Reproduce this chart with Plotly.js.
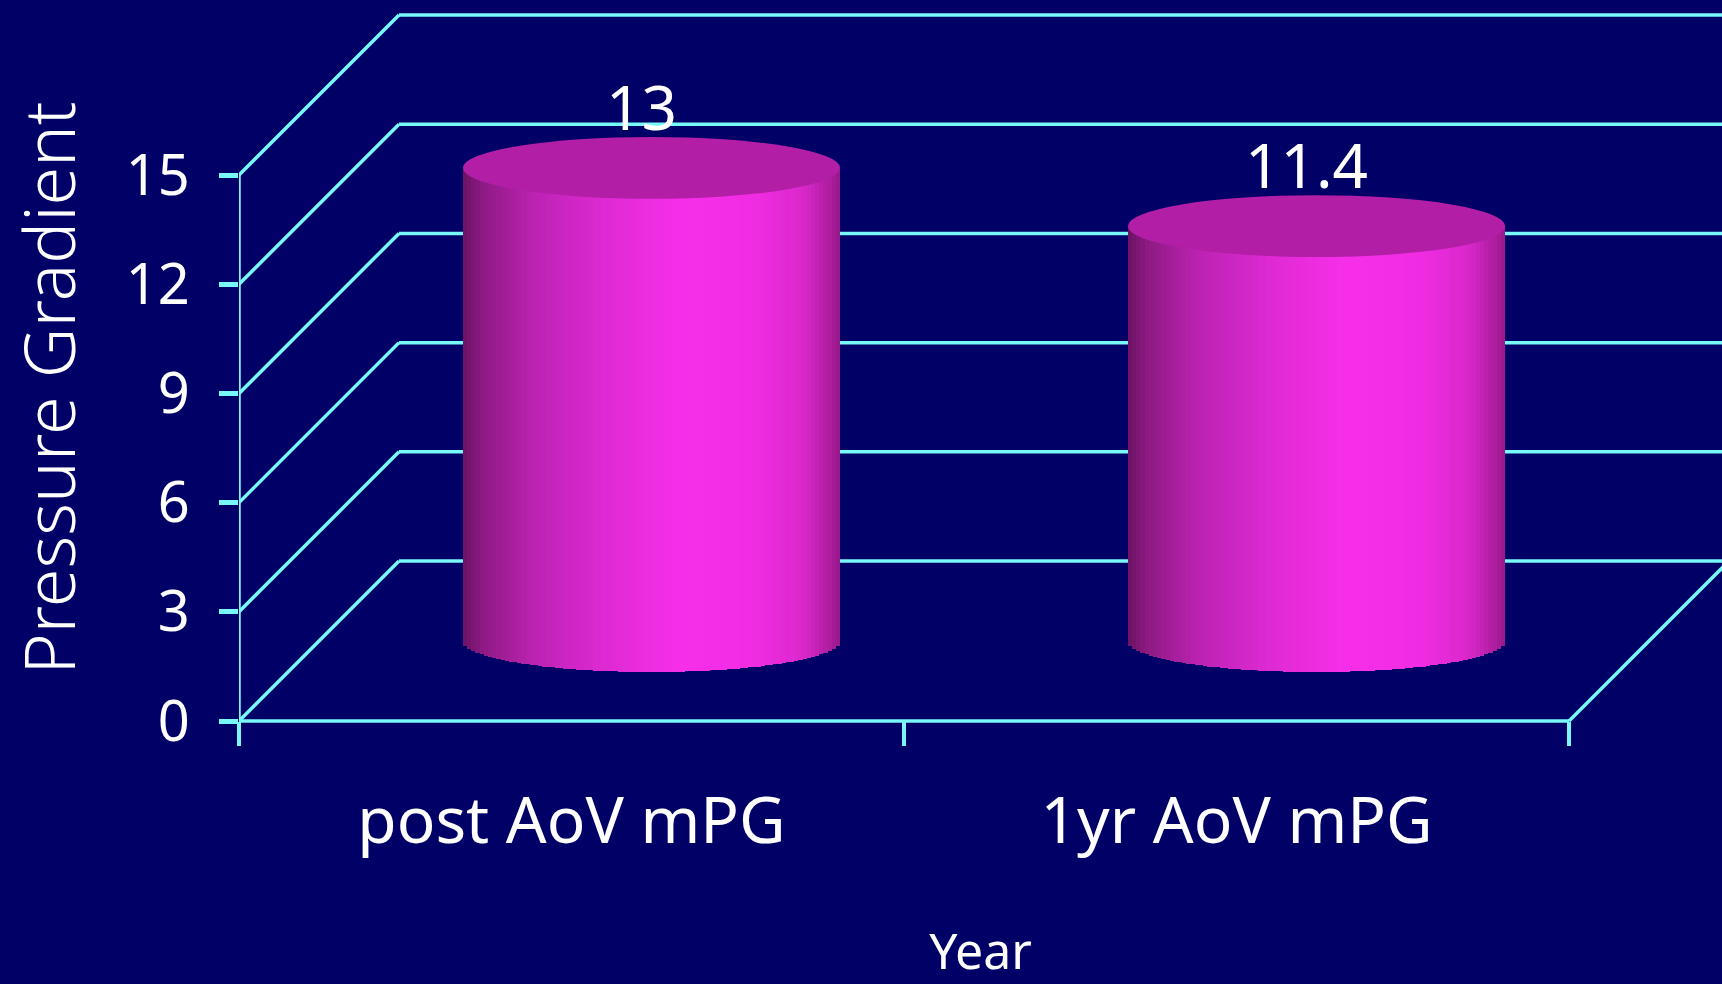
<!DOCTYPE html>
<html>
<head>
<meta charset="utf-8">
<script src="https://cdn.plot.ly/plotly-3.0.1.min.js"></script>
<style>html,body{margin:0;padding:0;background:#000066;}#chart{width:1722px;height:984px;}</style>
</head>
<body>
<div id="chart"></div>
<script>
// ---- data ----
const categories = ['post AoV mPG', '1yr AoV mPG'];
const values = [13, 11.4];
const valueLabels = ['13', '11.4'];
const yTickVals = [0, 3, 6, 9, 12, 15];
const yTickText = ['0', '3', '6', '9', '12', '15'];

// ---- style / pseudo-3D geometry (in axis units) ----
const BG = '#000066';
const GRID = '#78f8f8';
const LW = 3.5;
const DX = 0.2406;   // depth offset along x (axis units)
const DY = 4.396;    // depth offset along y (axis units)
const CYL_W = 0.567; // cylinder width (x units)
const CYL_RY = 0.85; // ellipse half-height (y units)
const N_SLICES = 90;
const X_MAX = 1.73;
const Y_MIN = -1.511;
const Y_MAX = 19.81;

const stops = [
  [0.00, [106, 18, 98]],
  [0.05, [140, 26, 130]],
  [0.18, [186, 34, 176]],
  [0.38, [222, 42, 212]],
  [0.58, [247, 46, 233]],
  [0.78, [240, 44, 226]],
  [0.90, [218, 40, 204]],
  [0.97, [176, 30, 160]],
  [1.00, [150, 24, 136]]
];
function gradColor(t) {
  for (let k = 1; k < stops.length; k++) {
    if (t <= stops[k][0]) {
      const a = stops[k - 1], b = stops[k];
      const f = (t - a[0]) / (b[0] - a[0]);
      const c = a[1].map((v, j) => Math.round(v + (b[1][j] - v) * f));
      return 'rgb(' + c.join(',') + ')';
    }
  }
  return 'rgb(' + stops[stops.length - 1][1].join(',') + ')';
}

const traces = [];
const shapes = [];
const annotations = [];

// back wall / floor lines (drawn below the cylinders)
const x0 = -0.5;
yTickVals.forEach(v => {
  shapes.push({type: 'line', xref: 'x', yref: 'y', layer: 'below',
    x0: x0, y0: v, x1: x0 + DX, y1: v + DY, line: {color: GRID, width: LW}});
  shapes.push({type: 'line', xref: 'x', yref: 'y', layer: 'below',
    x0: x0 + DX, y0: v + DY, x1: X_MAX, y1: v + DY, line: {color: GRID, width: LW}});
});
const xEnd = categories.length - 0.5;
// front axis line (value axis)
shapes.push({type: 'line', xref: 'x', yref: 'y', layer: 'below',
  x0: x0, y0: 0, x1: x0, y1: yTickVals[yTickVals.length - 1], line: {color: GRID, width: LW}});
// floor front edge and right side
shapes.push({type: 'line', xref: 'x', yref: 'y', layer: 'below',
  x0: x0, y0: 0, x1: xEnd, y1: 0, line: {color: GRID, width: LW}});
shapes.push({type: 'line', xref: 'x', yref: 'y', layer: 'below',
  x0: xEnd, y0: 0, x1: xEnd + DX, y1: DY, line: {color: GRID, width: LW}});

// cylinders
categories.forEach((cat, i) => {
  const xc = i + DX / 2;
  const top = values[i] + DY / 2;
  const xs = [], bases = [], lens = [], cols = [], widths = [];
  const sw = CYL_W / N_SLICES;
  for (let s = 0; s < N_SLICES; s++) {
    const xs_c = xc - CYL_W / 2 + (s + 0.5) * sw;
    const t = (xs_c - xc) / (CYL_W / 2);
    const base = DY / 2 - CYL_RY * Math.sqrt(Math.max(0, 1 - t * t));
    xs.push(xs_c);
    bases.push(base);
    lens.push(top - base);
    cols.push(gradColor((s + 0.5) / N_SLICES));
    widths.push(sw * 1.08);
  }
  traces.push({
    type: 'bar', name: cat, x: xs, y: lens, base: bases, width: widths,
    marker: {color: cols, line: {width: 0}},
    hoverinfo: 'skip', showlegend: false
  });
  shapes.push({type: 'circle', xref: 'x', yref: 'y', layer: 'above',
    x0: xc - CYL_W / 2, x1: xc + CYL_W / 2, y0: top - CYL_RY, y1: top + CYL_RY,
    fillcolor: '#b21fa6', line: {width: 0}});
  annotations.push({
    xref: 'x', yref: 'y', x: xc - 0.015, y: top + CYL_RY, yanchor: 'bottom', xanchor: 'center',
    text: valueLabels[i], showarrow: false, yshift: -13,
    font: {family: 'Noto Sans, sans-serif', size: 62, color: '#ffffff'}
  });
});

// plot area height in px and position of the value-0 line inside it
const PLOT_H = 776;
const xAxisPos = (-Y_MIN) / (Y_MAX - Y_MIN);

const layout = {
  width: 1722, height: 984,
  paper_bgcolor: BG, plot_bgcolor: BG,
  margin: {l: 239, r: 0, t: 0, b: 984 - PLOT_H, pad: 0},
  barmode: 'overlay', bargap: 0,
  showlegend: false,
  font: {family: 'Noto Sans, sans-serif', color: '#ffffff'},
  xaxis: {
    range: [-0.5, X_MAX], fixedrange: true,
    anchor: 'free', position: xAxisPos,
    tickmode: 'array', tickvals: categories.map((c, i) => i), ticktext: categories,
    ticks: '', showgrid: false, zeroline: false, showline: false,
    tickfont: {family: 'Noto Sans, sans-serif', size: 64, color: '#ffffff'},
    ticklabelstandoff: 57,
    minor: {tickmode: 'array', tickvals: categories.map((c, i) => i - 0.5).concat([xEnd]),
      ticks: 'outside', ticklen: 24, tickwidth: 3.5, tickcolor: GRID, showgrid: false},
    title: {text: 'Year', standoff: 103,
      font: {family: 'Noto Sans, sans-serif', size: 50, color: '#ffffff'}}
  },
  yaxis: {
    range: [Y_MIN, Y_MAX], fixedrange: true,
    tickmode: 'array', tickvals: yTickVals, ticktext: yTickText,
    ticks: 'outside', ticklen: 19, tickwidth: 5, tickcolor: GRID,
    showgrid: false, zeroline: false, showline: false,
    tickfont: {family: 'Noto Sans, sans-serif', size: 56, color: '#ffffff'},
    ticklabelstandoff: 18,
    title: {text: 'Pressure Gradient', standoff: 51,
      font: {family: 'Noto Sans, sans-serif', size: 70, color: '#ffffff', weight: 300}}
  },
  shapes: shapes,
  annotations: annotations
};

Plotly.newPlot('chart', traces, layout, {displayModeBar: false, staticPlot: true});
</script>
</body>
</html>
